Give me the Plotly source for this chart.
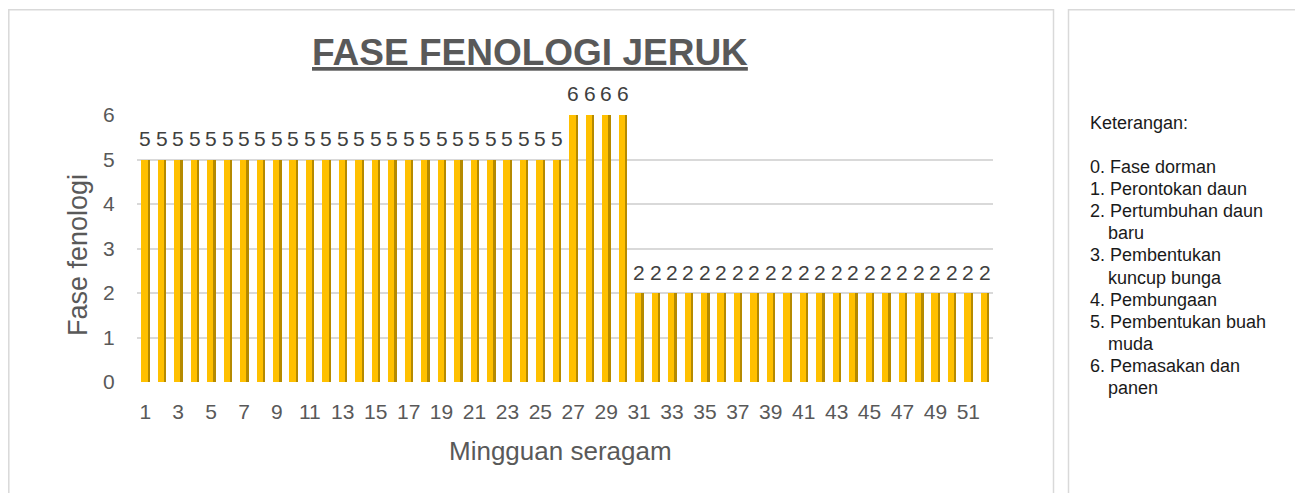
import plotly.graph_objects as go

weeks = list(range(1, 53))
phase = [5] * 26 + [6] * 4 + [2] * 22
tick_vals = list(range(1, 52, 2))
y_ticks = [0, 1, 2, 3, 4, 5, 6]

title_text = "FASE FENOLOGI JERUK"
x_title = "Mingguan seragam"
y_title = "Fase fenologi"
legend_title = "Keterangan:"
legend_items = [
    ["0. Fase dorman"],
    ["1. Perontokan daun"],
    ["2. Pertumbuhan daun", "baru"],
    ["3. Pembentukan", "kuncup bunga"],
    ["4. Pembungaan"],
    ["5. Pembentukan buah", "muda"],
    ["6. Pemasakan dan", "panen"],
]

W, H = 1303, 493
OFF = 8  # page body margin
FONT = "Liberation Sans, Arial, sans-serif"

def px(x):
    return (x - OFF) / W

def py(y):
    return (H - (y - OFF)) / H

fig = go.Figure()
# side (shadow) face of the 3D bars
fig.add_trace(go.Bar(x=weeks, y=phase, width=0.52, offset=-0.24,
                     marker=dict(color="#B58A00", line=dict(width=0)),
                     hoverinfo="skip", showlegend=False))
# front face
fig.add_trace(go.Bar(x=weeks, y=phase, width=0.38, offset=-0.24,
                     marker=dict(color="#FFC000", line=dict(width=0)),
                     hoverinfo="skip", showlegend=False))

for w, v in zip(weeks, phase):
    fig.add_annotation(x=w, y=v, xref="x", yref="y", text=str(v), showarrow=False,
                       yshift=21, yanchor="middle",
                       font=dict(family=FONT, size=21, color="#404040"))

shapes = [
    dict(type="rect", xref="paper", yref="paper", x0=px(8.8), x1=px(1053.5), y0=-0.2, y1=py(9.8),
         line=dict(color="#D9D9D9", width=1.5), fillcolor="rgba(0,0,0,0)", layer="below"),
    dict(type="rect", xref="paper", yref="paper", x0=px(1068.5), x1=px(1299.5), y0=-0.2, y1=py(9.8),
         line=dict(color="#D9D9D9", width=1.5), fillcolor="rgba(0,0,0,0)", layer="below"),
]

ann = [
    dict(x=px(530), y=py(52), text="<b><u>" + title_text + "</u></b>",
         font=dict(family=FONT, size=37, color="#595959")),
    dict(x=px(560), y=py(451), text=x_title,
         font=dict(family=FONT, size=26, color="#595959")),
    dict(x=px(78), y=py(255), text=y_title, textangle=-90,
         font=dict(family=FONT, size=27, color="#595959")),
]
for a in ann:
    fig.add_annotation(xref="paper", yref="paper", showarrow=False, xanchor="center", yanchor="middle", **a)

LEG_FONT = dict(family=FONT, size=18, color="#1a1a1a")
fig.add_annotation(x=px(1088), y=py(123), xref="paper", yref="paper", text=legend_title,
                   showarrow=False, xanchor="left", yanchor="middle", font=LEG_FONT)
line_y = 167.0
for item in legend_items:
    for j, part in enumerate(item):
        fig.add_annotation(x=px(1088 if j == 0 else 1106), y=py(line_y), xref="paper", yref="paper",
                           text=part, showarrow=False, xanchor="left", yanchor="middle", font=LEG_FONT)
        line_y += 22.1

fig.update_layout(
    width=W, height=H, margin=dict(l=0, r=0, t=0, b=0, pad=0, autoexpand=False),
    paper_bgcolor="white", plot_bgcolor="white",
    barmode="overlay", bargap=0, hovermode=False, showlegend=False,
    shapes=shapes,
    xaxis=dict(domain=[px(137), px(993)], range=[0.5, 52.5], tickmode="array", tickvals=tick_vals,
               ticktext=[str(t) for t in tick_vals], ticks="outside", ticklen=11, automargin=False,
               tickcolor="rgba(0,0,0,0)", showgrid=False, zeroline=False, showline=False,
               tickfont=dict(family=FONT, size=21, color="#595959")),
    yaxis=dict(domain=[py(382), py(115)], range=[0, 6], tickmode="array", tickvals=y_ticks,
               ticks="outside", ticklen=17, tickcolor="rgba(0,0,0,0)", automargin=False,
               showgrid=True, gridcolor="#D9D9D9", gridwidth=1.5, zeroline=False, showline=False,
               tickfont=dict(family=FONT, size=21, color="#595959")),
)

fig.write_html("out.html")
